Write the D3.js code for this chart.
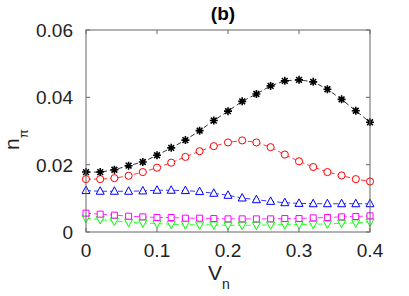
<!DOCTYPE html>
<html>
<head>
<meta charset="utf-8">
<script src="https://cdn.jsdelivr.net/npm/d3@7"></script>
<style>
  body { margin: 0; background: #fff; }
  text { font-family: "Liberation Sans", Arial, sans-serif; }
</style>
</head>
<body>
<div id="chart"></div>
<script>
// data, x = Vn from 0 to 0.4 in steps of 0.02
var vn = [0, 0.02, 0.04, 0.06, 0.08, 0.1, 0.12, 0.14, 0.16, 0.18, 0.2,
          0.22, 0.24, 0.26, 0.28, 0.3, 0.32, 0.34, 0.36, 0.38, 0.4];
var blackStar = [0.0178, 0.0178, 0.0185, 0.0197, 0.0208, 0.0228, 0.0250, 0.0273, 0.0301, 0.0331, 0.0359,
                 0.0388, 0.0410, 0.0434, 0.0449, 0.0452, 0.0446, 0.0424, 0.0394, 0.0360, 0.0326];
var redCircle = [0.0157, 0.0157, 0.0160, 0.0167, 0.0178, 0.0191, 0.0206, 0.0223, 0.0240, 0.0255, 0.0266,
                 0.0272, 0.0266, 0.0252, 0.0230, 0.0210, 0.0193, 0.0178, 0.0168, 0.0157, 0.0150];
var blueUp = [0.0123, 0.0121, 0.0121, 0.0121, 0.0122, 0.0124, 0.0124, 0.0123, 0.0120, 0.0115, 0.0109,
              0.0101, 0.0096, 0.0091, 0.0087, 0.0085, 0.0084, 0.0084, 0.0084, 0.0084, 0.0084];
var magentaSquare = [0.0056, 0.0053, 0.0050, 0.0047, 0.0045, 0.0043, 0.0043, 0.0041, 0.0041, 0.0040, 0.0039,
                     0.0039, 0.0039, 0.0039, 0.0040, 0.0040, 0.0042, 0.0043, 0.0045, 0.0046, 0.0048];
var greenDown = [0.0041, 0.0037, 0.0032, 0.0029, 0.0027, 0.0025, 0.0023, 0.0022, 0.0021, 0.0021, 0.0020,
                 0.0020, 0.0020, 0.0021, 0.0022, 0.0022, 0.0023, 0.0024, 0.0026, 0.0027, 0.0030];
var xTicks = [0, 0.1, 0.2, 0.3, 0.4];
var yTicks = [0, 0.02, 0.04, 0.06];

var width = 409, height = 296;
var margin = { top: 30, left: 86, right: 39, bottom: 64 };
var w = width - margin.left - margin.right;
var h = height - margin.top - margin.bottom;

var svg = d3.select("#chart").append("svg")
    .attr("width", width)
    .attr("height", height);

var g = svg.append("g")
    .attr("transform", "translate(" + margin.left + "," + margin.top + ")");

var x = d3.scaleLinear().domain([0, 0.4]).range([0, w]);
var y = d3.scaleLinear().domain([0, 0.06]).range([h, 0]);

var series = [
  { values: blackStar, color: "#000000", shape: "star" },
  { values: redCircle, color: "#ff0000", shape: "circle" },
  { values: blueUp, color: "#0000ff", shape: "up" },
  { values: magentaSquare, color: "#ff00ff", shape: "square" },
  { values: greenDown, color: "#00ff00", shape: "down" }
];

function markerPath(shape) {
  var r = 4;
  if (shape === "circle") return d3.symbol(d3.symbolCircle, 40)();
  if (shape === "square") return "M-3,-3H3V3H-3Z";
  if (shape === "up") return "M0,-" + (r + 0.5) + "L" + r + "," + (r - 1) + "L-" + r + "," + (r - 1) + "Z";
  if (shape === "down") return "M0," + (r + 0.5) + "L" + r + ",-" + (r - 1) + "L-" + r + ",-" + (r - 1) + "Z";
  // star: asterisk made of 4 strokes
  var s = 4, d = s * 0.72;
  return "M-" + s + ",0H" + s + "M0,-" + s + "V" + s +
         "M-" + d + ",-" + d + "L" + d + "," + d + "M-" + d + "," + d + "L" + d + ",-" + d;
}

var line = d3.line()
    .x(function(d) { return x(d[0]); })
    .y(function(d) { return y(d[1]); });

// Draw series (bottom ones first)
series.slice().reverse().forEach(function(s) {
  var pts = vn.map(function(v, i) { return [v, s.values[i]]; });
  g.append("path")
    .attr("d", line(pts))
    .style("fill", "none")
    .style("stroke", s.color)
    .style("stroke-width", 0.8)
    .style("stroke-dasharray", "5,3");

  g.selectAll(null)
    .data(pts)
    .enter().append("path")
    .attr("transform", function(d) { return "translate(" + x(d[0]) + "," + y(d[1]) + ")"; })
    .attr("d", markerPath(s.shape))
    .style("fill", s.shape === "star" ? "none" : "#fff")
    .style("stroke", s.color)
    .style("stroke-width", s.shape === "star" ? 1.6 : 1);
});

// Box and ticks
var axisColor = "#666";
g.append("rect")
  .attr("width", w)
  .attr("height", h)
  .style("fill", "none")
  .style("stroke", axisColor)
  .style("stroke-width", 1);

g.selectAll(".xtick")
  .data(xTicks)
  .enter().append("path")
  .attr("d", function(d) {
    return "M" + x(d) + "," + h + "v-4M" + x(d) + ",0v4";
  })
  .style("stroke", axisColor);

g.selectAll(".ytick")
  .data(yTicks)
  .enter().append("path")
  .attr("d", function(d) {
    return "M0," + y(d) + "h4M" + w + "," + y(d) + "h-4";
  })
  .style("stroke", axisColor);

g.selectAll(".xlabel")
  .data(xTicks)
  .enter().append("text")
  .attr("x", function(d) { return x(d); })
  .attr("y", h + 25)
  .style("text-anchor", "middle")
  .style("font-size", "19px")
  .style("fill", "#222")
  .text(function(d) { return d === 0 ? "0" : d3.format(".1f")(d); });

g.selectAll(".ylabel")
  .data(yTicks)
  .enter().append("text")
  .attr("x", -13)
  .attr("y", function(d) { return y(d) + 7; })
  .style("text-anchor", "end")
  .style("font-size", "19px")
  .style("fill", "#222")
  .text(function(d) { return d === 0 ? "0" : d3.format(".2f")(d); });

// Title
svg.append("text")
  .attr("x", 223)
  .attr("y", 20)
  .style("text-anchor", "middle")
  .style("font-size", "19px")
  .style("font-weight", "bold")
  .style("fill", "#000")
  .text("(b)");

// Axis labels
var xl = svg.append("text")
  .attr("x", 208)
  .attr("y", 280)
  .style("font-size", "21px")
  .style("fill", "#222");
xl.append("tspan").text("V");
xl.append("tspan").attr("dy", 9).style("font-size", "14px").text("n");

var yl = svg.append("text")
  .attr("transform", "translate(19,150) rotate(-90)")
  .style("font-size", "21px")
  .style("fill", "#222");
yl.append("tspan").text("n");
yl.append("tspan").attr("dy", 9).style("font-size", "13px").text("π");
</script>
</body>
</html>
